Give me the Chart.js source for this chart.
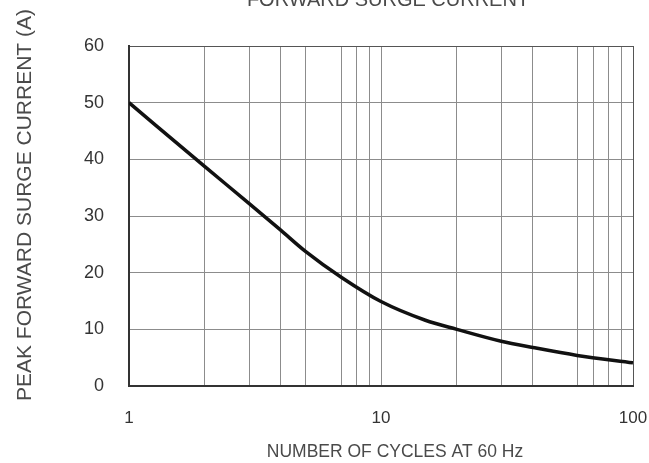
<!DOCTYPE html>
<html>
<head>
<meta charset="utf-8">
<script src="https://cdn.jsdelivr.net/npm/chart.js@4"></script>
<style>
  html, body { margin: 0; padding: 0; background: #fff; }
  #wrap { width: 649px; height: 463px; }
</style>
</head>
<body>
<div id="wrap"><canvas id="surge" width="649" height="463"></canvas></div>
<script>
// curve
var cycles = [1, 2, 3, 4, 5, 7, 10, 15, 20, 30, 40, 60, 100]
var surgeCurrent = [50, 38.7, 32.2, 27.5, 23.8, 19.1, 14.9, 11.6, 10, 7.9, 6.8, 5.4, 4.1]

// grid lines on the original (no line at 6 or 50)
var xGridTicks = [1, 2, 3, 4, 5, 7, 8, 9, 10, 20, 30, 40, 60, 70, 80, 90, 100]
var xTickLabels = [1, 10, 100]
var yTicks = [0, 10, 20, 30, 40, 50, 60]

var chartTitle = 'FORWARD SURGE CURRENT'
var xTitle = 'NUMBER OF CYCLES AT 60 Hz'
var yTitle = 'PEAK FORWARD SURGE CURRENT (A)'

var FONT = '"Liberation Sans", Arial, sans-serif'

var points = []
for (var i = 0; i < cycles.length; i++) {
  points.push({ x: cycles[i], y: surgeCurrent[i] })
}

// titles are plain text placed around the plot
const textPlugin = {
  id: 'texts',
  afterDraw(chart) {
    const ctx = chart.ctx
    ctx.save()
    ctx.fillStyle = '#4a4a4a'
    ctx.textAlign = 'center'
    ctx.textBaseline = 'alphabetic'
    ctx.font = '20px ' + FONT
    ctx.fillText(chartTitle, 388, 6)

    ctx.font = '17.5px ' + FONT
    ctx.textBaseline = 'middle'
    ctx.fillText(xTitle, 395, 452)

    ctx.translate(25, 205)
    ctx.rotate(-Math.PI / 2)
    ctx.font = '21px ' + FONT
    ctx.fillText(yTitle, 0, 0)
    ctx.restore()
  }
}

const chartConfig = {
  type: 'line',
  data: {
    datasets: [{
      data: points,
      borderColor: '#111',
      borderWidth: 3.5,
      pointRadius: 0,
      fill: false,
      cubicInterpolationMode: 'monotone'
    }]
  },
  options: {
    responsive: false,
    animation: false,
    layout: { padding: { left: 0, top: 46, right: 16, bottom: 0 } },
    plugins: {
      legend: { display: false },
      tooltip: { enabled: false }
    },
    scales: {
      x: {
        type: 'logarithmic',
        min: 1,
        max: 100,
        afterBuildTicks: function (scale) {
          scale.ticks = xGridTicks.map(function (v) { return { value: v } })
        },
        afterFit: function (scale) {
          scale.height = 77
          scale.paddingLeft = 0
          scale.paddingRight = 0
        },
        ticks: {
          autoSkip: false,
          maxRotation: 0,
          padding: 22,
          color: '#333',
          font: { family: FONT, size: 17 },
          callback: function (v) {
            return xTickLabels.indexOf(v) >= 0 ? String(v) : ''
          }
        },
        grid: {
          drawTicks: false,
          lineWidth: 1,
          color: function (c) {
            return c.tick && c.tick.value === 100 ? '#555' : '#8c8c8c'
          }
        },
        border: { display: true, color: '#333', width: 2 }
      },
      y: {
        min: 0,
        max: 60,
        afterBuildTicks: function (scale) {
          scale.ticks = yTicks.map(function (v) { return { value: v } })
        },
        afterFit: function (scale) {
          scale.width = 129
          scale.paddingTop = 0
          scale.paddingBottom = 0
        },
        ticks: {
          padding: 25,
          color: '#333',
          font: { family: FONT, size: 18 }
        },
        grid: {
          drawTicks: false,
          lineWidth: 1,
          color: function (c) {
            return c.tick && c.tick.value === 60 ? '#555' : '#8c8c8c'
          }
        },
        border: { display: true, color: '#333', width: 2 }
      }
    }
  },
  plugins: [textPlugin]
}

new Chart(document.getElementById('surge'), chartConfig)
</script>
</body>
</html>
